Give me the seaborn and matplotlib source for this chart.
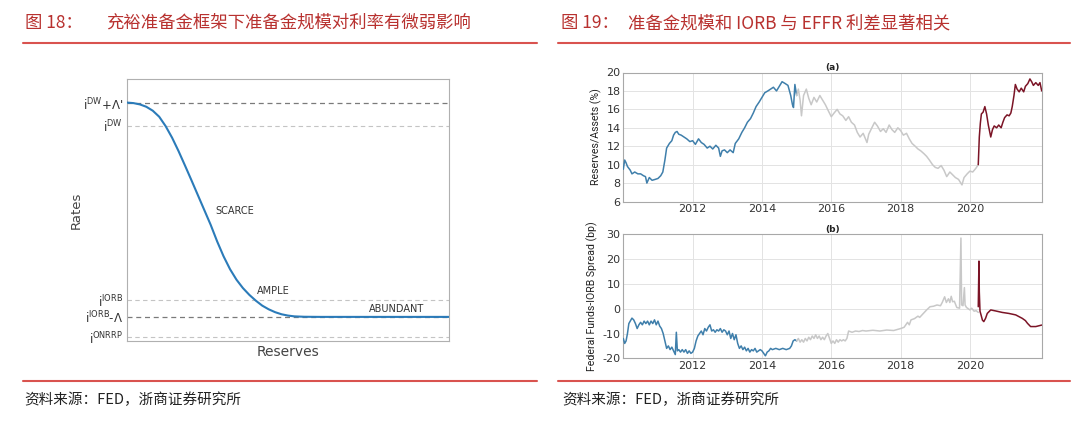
import numpy as np
import pandas as pd
import matplotlib
matplotlib.use("Agg")
import matplotlib.pyplot as plt
import seaborn as sns

# ---------------- data ----------------
# Left: conceptual demand curve for reserves (x = reserves, y = rate)
curve_x = [0, 2, 4, 6, 8, 10, 12, 14, 16, 18, 20, 22, 24, 26, 28, 30, 32, 34, 36, 38,
           40, 42, 44, 46, 48, 50, 52, 55, 60, 100]
curve_y = [91.0, 90.8, 90.3, 89.4, 87.9, 85.6, 82.0, 77.6, 72.5, 67.0, 61.4, 55.7, 50.0,
           44.3, 38.0, 32.3, 27.4, 23.4, 20.2, 17.6, 15.4, 13.5, 12.1, 11.0, 10.2, 9.7,
           9.4, 9.25, 9.2, 9.2]
level_names = [r"$i^{DW}$+Λ'", r"$i^{DW}$", r"$i^{IORB}$", r"$i^{IORB}$-Λ", r"$i^{ONRRP}$"]
level_values = [90.8, 82.1, 15.6, 9.2, 1.5]
level_strong = [True, False, False, True, False]
regime_labels = ["SCARCE", "AMPLE", "ABUNDANT"]
regime_x = [27.6, 40.5, 75.0]
regime_y = [49.6, 19.2, 12.1]

# Right (a): Reserves / Assets (%)
res_blue_t = [2010.00, 2010.04, 2010.08, 2010.12, 2010.20, 2010.25, 2010.33, 2010.42, 2010.50,
              2010.58, 2010.64, 2010.68, 2010.75, 2010.83, 2010.92, 2011.00, 2011.08, 2011.14,
              2011.20, 2011.25, 2011.33, 2011.40, 2011.45, 2011.50, 2011.55, 2011.60, 2011.67,
              2011.75, 2011.83, 2011.92, 2012.00, 2012.08, 2012.17, 2012.25, 2012.33, 2012.42,
              2012.50, 2012.58, 2012.67, 2012.75, 2012.80, 2012.85, 2012.92, 2013.00, 2013.08,
              2013.17, 2013.23, 2013.33, 2013.42, 2013.50, 2013.58, 2013.67, 2013.75, 2013.83,
              2013.92, 2014.00, 2014.08, 2014.17, 2014.25, 2014.33, 2014.42, 2014.50, 2014.58,
              2014.67, 2014.75, 2014.83, 2014.88, 2014.91, 2014.95, 2015.00]
res_blue_v = [9.5, 10.5, 10.2, 9.8, 9.4, 9.0, 9.2, 9.0, 9.0,
              8.8, 8.7, 8.0, 8.6, 8.3, 8.4, 8.5, 8.8, 9.2,
              10.5, 11.8, 12.3, 12.6, 13.2, 13.5, 13.6, 13.3, 13.2,
              13.0, 12.8, 12.5, 12.6, 12.2, 12.8, 12.4, 12.2, 11.8,
              12.0, 11.7, 12.1, 11.8, 10.9, 11.5, 11.6, 11.3, 11.6,
              11.3, 12.3, 12.8, 13.5, 14.0, 14.6, 15.0, 15.6, 16.3,
              16.8, 17.3, 17.8, 18.0, 18.2, 18.4, 18.0, 18.5, 19.0,
              18.8, 18.6, 17.5, 16.5, 16.2, 18.7, 17.5]
res_gray_t = [2015.00, 2015.05, 2015.10, 2015.14, 2015.20, 2015.28, 2015.35, 2015.42, 2015.50,
              2015.58, 2015.67, 2015.75, 2015.83, 2015.92, 2016.00, 2016.08, 2016.17, 2016.25,
              2016.33, 2016.42, 2016.50, 2016.58, 2016.67, 2016.75, 2016.83, 2016.92, 2017.03,
              2017.08, 2017.17, 2017.25, 2017.33, 2017.42, 2017.50, 2017.58, 2017.67, 2017.75,
              2017.83, 2017.92, 2018.00, 2018.08, 2018.17, 2018.25, 2018.33, 2018.42, 2018.50,
              2018.58, 2018.67, 2018.75, 2018.83, 2018.92, 2019.00, 2019.08, 2019.17, 2019.25,
              2019.33, 2019.42, 2019.50, 2019.58, 2019.67, 2019.77, 2019.83, 2019.92, 2020.00,
              2020.08, 2020.17, 2020.24]
res_gray_v = [17.5, 18.2, 17.0, 15.3, 17.5, 18.2, 17.2, 16.5, 17.3,
              16.8, 17.5, 17.0, 16.5, 15.8, 15.2, 15.6, 16.0, 15.5,
              15.3, 14.8, 15.2, 14.6, 14.3, 13.5, 13.0, 13.4, 12.4,
              13.3, 14.0, 14.6, 14.2, 13.6, 13.9, 13.5, 14.3, 13.8,
              13.5, 14.0, 13.7, 13.2, 13.4, 12.8, 12.3, 12.0, 11.7,
              11.5, 11.2, 10.9, 10.5, 10.0, 9.7, 9.6, 9.9, 9.4,
              8.7, 9.2, 8.9, 8.6, 8.4, 7.8, 8.6, 9.0, 9.3,
              9.2, 9.6, 10.0]
res_red_t = [2020.24, 2020.27, 2020.30, 2020.33, 2020.38, 2020.43, 2020.48, 2020.53, 2020.60,
             2020.65, 2020.70, 2020.77, 2020.83, 2020.90, 2020.95, 2021.00, 2021.07, 2021.13,
             2021.18, 2021.22, 2021.27, 2021.31, 2021.36, 2021.42, 2021.48, 2021.55, 2021.60,
             2021.67, 2021.73, 2021.78, 2021.83, 2021.90, 2021.97, 2022.02, 2022.07]
res_red_v = [10.0, 13.0, 14.5, 15.5, 15.7, 16.3, 15.5, 14.3, 13.0,
             13.8, 14.2, 14.0, 14.3, 14.0, 14.6, 15.1, 15.4, 15.3,
             15.6, 16.3, 17.5, 18.7, 18.2, 17.9, 18.3, 17.9, 18.5,
             18.8, 19.3, 19.0, 18.6, 18.9, 18.6, 18.9, 18.0]

# Right (b): Federal Funds - IORB spread (bp)
spr_blue_t = [2010.00, 2010.04, 2010.08, 2010.12, 2010.16, 2010.20, 2010.25, 2010.30, 2010.35,
              2010.40, 2010.45, 2010.50, 2010.55, 2010.60, 2010.65, 2010.70, 2010.75, 2010.80,
              2010.85, 2010.90, 2010.95, 2011.00, 2011.05, 2011.10, 2011.15, 2011.20, 2011.25,
              2011.30, 2011.35, 2011.40, 2011.45, 2011.50, 2011.53, 2011.56, 2011.60, 2011.65,
              2011.70, 2011.75, 2011.80, 2011.85, 2011.90, 2011.95, 2012.00, 2012.05, 2012.10,
              2012.15, 2012.20, 2012.25, 2012.30, 2012.35, 2012.40, 2012.45, 2012.50, 2012.55,
              2012.60, 2012.65, 2012.70, 2012.75, 2012.80, 2012.85, 2012.90, 2012.95, 2013.00,
              2013.05, 2013.10, 2013.15, 2013.20, 2013.25, 2013.30, 2013.35, 2013.40, 2013.45,
              2013.50, 2013.55, 2013.60, 2013.65, 2013.70, 2013.75, 2013.80, 2013.85, 2013.90,
              2013.95, 2014.00, 2014.05, 2014.10, 2014.15, 2014.20, 2014.25, 2014.30, 2014.40,
              2014.50, 2014.60, 2014.70, 2014.80, 2014.85, 2014.90, 2014.95, 2015.00]
spr_blue_v = [-12, -14, -13, -10, -6, -5, -3.8, -4.5, -6,
              -8, -6.5, -5.5, -6.5, -5, -6, -5, -6.5, -5,
              -6, -4.5, -6.5, -5, -7, -8, -10, -13, -16,
              -15, -16.5, -15.5, -17, -18.5, -9.5, -17, -16.5, -17.5,
              -16.5, -17.5, -16.5, -18, -17, -18, -17.5, -16, -13,
              -11, -10, -9, -10.5, -8, -9, -7.5, -6.5, -9,
              -8.5, -9.5, -8.5, -9, -8, -9.5, -8.5, -9, -10.5,
              -9, -12, -10, -12.5, -10.5, -14, -16, -15, -16.5,
              -15.5, -17, -16, -17.5, -16.5, -17, -16, -17.5, -17,
              -16.5, -17, -18, -19, -17.5, -17, -16, -16.5, -16,
              -16.5, -16, -16.5, -16, -15, -13, -12.5, -13]
spr_gray_t = [2015.00, 2015.05, 2015.10, 2015.15, 2015.20, 2015.25, 2015.30, 2015.35, 2015.40,
              2015.45, 2015.50, 2015.55, 2015.60, 2015.65, 2015.70, 2015.75, 2015.80, 2015.85,
              2015.90, 2015.95, 2016.00, 2016.05, 2016.10, 2016.15, 2016.20, 2016.25, 2016.30,
              2016.35, 2016.40, 2016.45, 2016.50, 2016.60, 2016.70, 2016.80, 2016.90, 2017.00,
              2017.20, 2017.40, 2017.60, 2017.80, 2018.00, 2018.10, 2018.20, 2018.25, 2018.30,
              2018.40, 2018.50, 2018.55, 2018.65, 2018.75, 2018.85, 2018.95, 2019.05, 2019.15,
              2019.20, 2019.27, 2019.32, 2019.38, 2019.42, 2019.46, 2019.50, 2019.55, 2019.62,
              2019.70, 2019.74, 2019.76, 2019.80, 2019.84, 2019.86, 2019.90, 2019.95, 2020.00,
              2020.05, 2020.12, 2020.18, 2020.24]
spr_gray_v = [-13, -12, -13.5, -12.5, -13.5, -12, -13, -11.5, -12.5,
              -11, -12, -10.5, -12, -11, -12.5, -11.5, -12.5, -11,
              -10, -12, -14, -13, -14, -12.5, -13.5, -12.5, -13,
              -12.5, -13, -12, -9, -9.5, -9, -9.2, -8.8, -9,
              -8.7, -9, -8.6, -8.8, -8, -7.5, -5.5, -6.5, -4.5,
              -4, -3, -3.5, -2, -0.5, 0.8, 1.0, 1.5, 1.2,
              2.5, 4.8, 2.5, 4, 2.5, 5, 2.8, 3, 0.5,
              0.2, 28.5, 1.5, 1.2, 8.5, 1.5, 0.5, 0, -0.5,
              0.2, -1, -0.8, -1.5]
spr_red_t = [2020.24, 2020.26, 2020.27, 2020.29, 2020.32, 2020.36, 2020.40, 2020.45, 2020.50,
             2020.60, 2020.74, 2020.93, 2021.12, 2021.32, 2021.51, 2021.60, 2021.66, 2021.75,
             2021.90, 2022.07]
spr_red_v = [0.8, 19.2, 6.8, -1.0, -2.5, -4.6, -5.2, -3.9, -1.9,
             -0.5, -0.9, -1.5, -1.9, -2.5, -3.9, -4.8, -5.9, -7.2,
             -7.2, -6.6]

year_ticks = [2012, 2014, 2016, 2018, 2020]
res_ticks = [6, 8, 10, 12, 14, 16, 18, 20]
spr_ticks = [-20, -10, 0, 10, 20, 30]

# ---------------- styling ----------------
sns.set_theme(style="white")
plt.rcParams["font.family"] = ["Noto Sans CJK SC", "DejaVu Sans"]
plt.rcParams["mathtext.default"] = "regular"
plt.rcParams["axes.unicode_minus"] = False

W, H = 1080, 426
fig = plt.figure(figsize=(W / 100, H / 100), dpi=100)


def fx(px):
    return px / W


def fy(py):
    return 1 - py / H


RED_TXT = "#b8312f"
RED_LINE = "#d9534f"
BLUE = "#3f7fab"
GRAY = "#c8c8c8"
DRED = "#7b1426"
NARROW = ["Roboto", "DejaVu Sans"]

# ---------------- decorations ----------------
fig.text(fx(25), fy(23), "图 18：", color=RED_TXT, fontsize=12.5, va="center", ha="left")
fig.text(fx(106), fy(23), "充裕准备金框架下准备金规模对利率有微弱影响", color=RED_TXT,
         fontsize=12.5, va="center", ha="left")
fig.text(fx(561), fy(23), "图 19：", color=RED_TXT, fontsize=12.5, va="center", ha="left")
fig.text(fx(628), fy(23), "准备金规模和 IORB 与 EFFR 利差显著相关", color=RED_TXT,
         fontsize=12.5, va="center", ha="left")
for x0, x1 in [(23, 537), (558, 1070)]:
    fig.add_artist(plt.Line2D([fx(x0), fx(x1)], [fy(43), fy(43)], color=RED_LINE, lw=1.5,
                              transform=fig.transFigure))
    fig.add_artist(plt.Line2D([fx(x0), fx(x1)], [fy(381), fy(381)], color=RED_LINE, lw=1.5,
                              transform=fig.transFigure))
fig.text(fx(24), fy(400), "资料来源：FED，浙商证券研究所", color="#222222", fontsize=10.5,
         va="center", ha="left")
fig.text(fx(562), fy(400), "资料来源：FED，浙商证券研究所", color="#222222", fontsize=10.5,
         va="center", ha="left")

# ---------------- left chart ----------------
axL = fig.add_axes([fx(127), fy(341), (449 - 127) / W, (341 - 79) / H])
for val, strong in zip(level_values, level_strong):
    if strong:
        axL.axhline(val, color="#7a7a7a", lw=0.9, ls=(0, (4, 3)), zorder=1)
    else:
        axL.axhline(val, color="#c4c4c4", lw=0.8, ls=(0, (4, 3)), zorder=1)
dfc = pd.DataFrame({"Reserves": curve_x, "Rates": curve_y})
sns.lineplot(data=dfc, x="Reserves", y="Rates", ax=axL, color="#2b7bb9", lw=1.5, zorder=3)
for lab, x, y in zip(regime_labels, regime_x, regime_y):
    axL.text(x, y, lab, fontsize=7, color="#333333", ha="left", va="center",
             family=["DejaVu Sans"])
axL.set_xlim(0, 100)
axL.set_ylim(0, 100)
axL.set_xticks([])
axL.set_yticks(level_values)
axL.set_yticklabels(level_names, family=["DejaVu Sans"])
axL.tick_params(axis="y", length=0, pad=3, labelsize=8.5, labelcolor="#333333")
axL.set_xlabel("Reserves", fontsize=10, color="#444444", labelpad=3, family=["DejaVu Sans"])
axL.set_ylabel("Rates", fontsize=9.5, color="#444444", labelpad=0, family=["DejaVu Sans"])
for sp in axL.spines.values():
    sp.set_color("#b0b0b0")
    sp.set_linewidth(0.8)

# ---------------- right charts ----------------
axA = fig.add_axes([fx(623.3), fy(201.5), (1041.7 - 623.3) / W, (201.5 - 72.5) / H])
axB = fig.add_axes([fx(623.3), fy(358.3), (1041.7 - 623.3) / W, (358.3 - 234.3) / H])

for ax, segs, ticks, ylab, ttl in [
    (axA, [(res_blue_t, res_blue_v, BLUE), (res_gray_t, res_gray_v, GRAY),
           (res_red_t, res_red_v, DRED)], res_ticks, "Reserves/Assets (%)", "(a)"),
    (axB, [(spr_blue_t, spr_blue_v, BLUE), (spr_gray_t, spr_gray_v, GRAY),
           (spr_red_t, spr_red_v, DRED)], spr_ticks, "Federal Funds-IORB Spread (bp)", "(b)"),
]:
    for t, v, c in segs:
        d = pd.DataFrame({"t": t, "v": v})
        sns.lineplot(data=d, x="t", y="v", ax=ax, color=c, lw=1.1, zorder=3)
    ax.set_xlim(2010.0, 2022.07)
    ax.set_ylim(ticks[0], ticks[-1])
    ax.set_xticks(year_ticks)
    ax.set_yticks(ticks)
    ax.grid(True, color="#e3e3e3", lw=0.7)
    ax.set_axisbelow(True)
    ax.tick_params(length=0, labelsize=8, labelcolor="#333333", pad=2)
    for lab in ax.get_xticklabels() + ax.get_yticklabels():
        lab.set_family(["DejaVu Sans"])
    ax.set_xlabel("")
    ax.set_ylabel(ylab, fontsize=7.6, color="#222222", labelpad=3, family=NARROW)
    ax.set_title(ttl, fontsize=6.5, fontweight="bold", pad=2, color="#222222",
                 family=["DejaVu Sans"])
    for sp in ax.spines.values():
        sp.set_color("#a8a8a8")
        sp.set_linewidth(0.8)

fig.savefig("out.png", dpi=100)
